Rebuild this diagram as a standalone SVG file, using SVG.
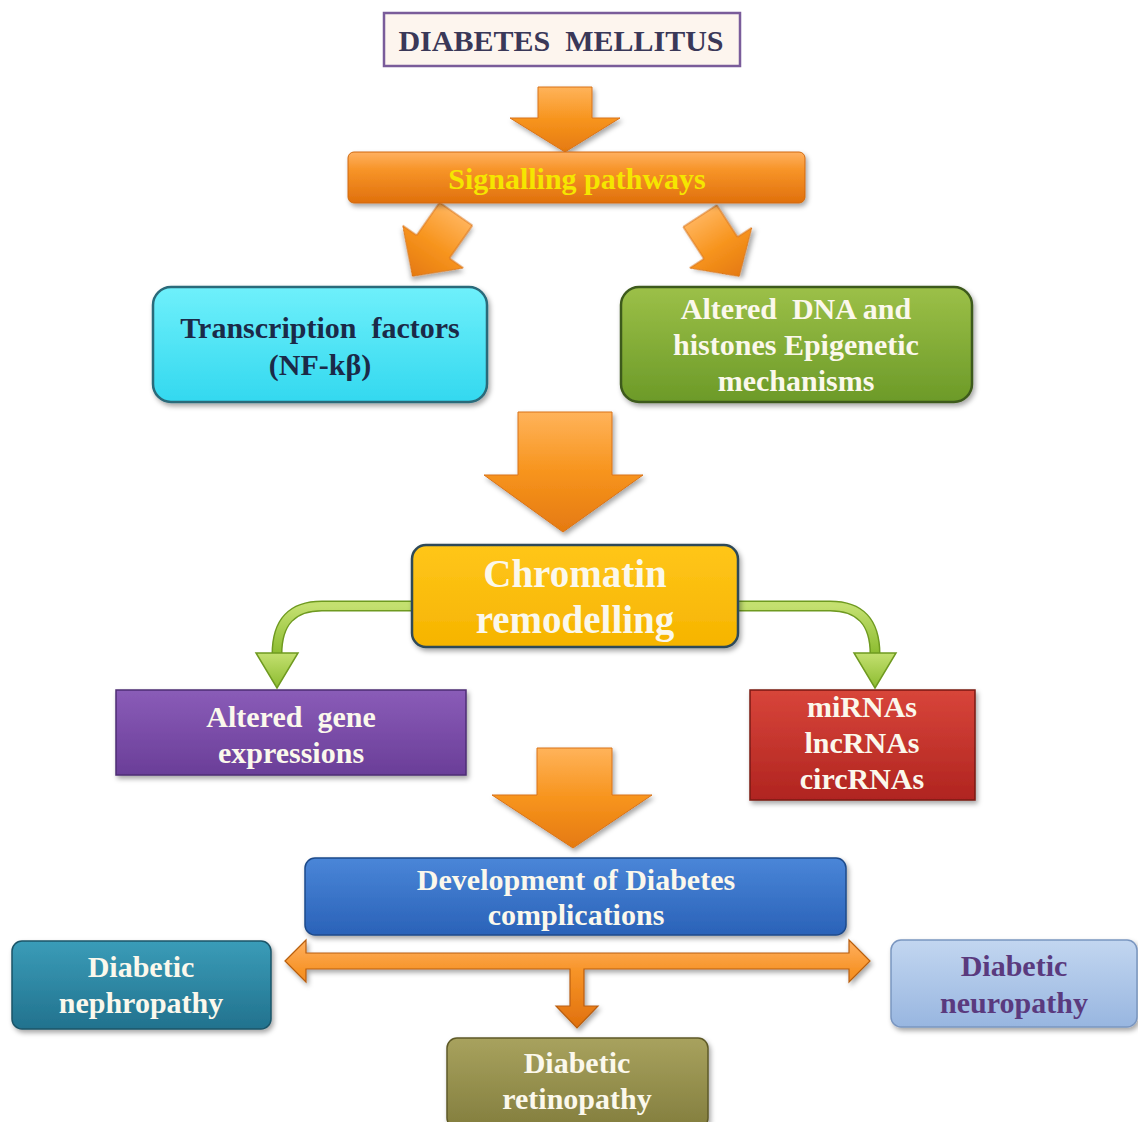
<svg xmlns="http://www.w3.org/2000/svg" width="1138" height="1122" viewBox="0 0 1138 1122">
<defs>
<style>
text{font-family:'Liberation Serif','DejaVu Serif',serif;font-weight:700;text-anchor:middle;font-size:30px}
.w{fill:#fbf8ec}
.orange{fill:url(#gOrange);stroke:#d9731a;stroke-width:1}
</style>
<filter id="sh" x="-10%" y="-10%" width="125%" height="130%"><feDropShadow dx="2" dy="3" stdDeviation="2.5" flood-color="#000" flood-opacity="0.35"/></filter>
<linearGradient id="gOrange" x1="0" y1="0" x2="0" y2="1"><stop offset="0" stop-color="#ffb35a"/><stop offset="0.5" stop-color="#f7941d"/><stop offset="1" stop-color="#e57a10"/></linearGradient>
<linearGradient id="gBar" x1="0" y1="0" x2="0" y2="1"><stop offset="0" stop-color="#ffb060"/><stop offset="0.35" stop-color="#f79428"/><stop offset="1" stop-color="#e0700c"/></linearGradient>
<linearGradient id="gCyan" x1="0" y1="0" x2="0" y2="1"><stop offset="0" stop-color="#6ff0fb"/><stop offset="1" stop-color="#33d8ef"/></linearGradient>
<linearGradient id="gGreen" x1="0" y1="0" x2="0" y2="1"><stop offset="0" stop-color="#9cc048"/><stop offset="1" stop-color="#6c9a28"/></linearGradient>
<linearGradient id="gYel" x1="0" y1="0" x2="0" y2="1"><stop offset="0" stop-color="#ffc61a"/><stop offset="1" stop-color="#f6b400"/></linearGradient>
<linearGradient id="gPurple" x1="0" y1="0" x2="0" y2="1"><stop offset="0" stop-color="#8a5cb8"/><stop offset="1" stop-color="#6a3e98"/></linearGradient>
<linearGradient id="gRed" x1="0" y1="0" x2="0" y2="1"><stop offset="0" stop-color="#d8453a"/><stop offset="1" stop-color="#b02420"/></linearGradient>
<linearGradient id="gBlue" x1="0" y1="0" x2="0" y2="1"><stop offset="0" stop-color="#4a86d8"/><stop offset="1" stop-color="#2a62b8"/></linearGradient>
<linearGradient id="gTeal" x1="0" y1="0" x2="0" y2="1"><stop offset="0" stop-color="#3a9cb8"/><stop offset="1" stop-color="#22728e"/></linearGradient>
<linearGradient id="gLBlue" x1="0" y1="0" x2="0" y2="1"><stop offset="0" stop-color="#c2d6f0"/><stop offset="1" stop-color="#98b6e0"/></linearGradient>
<linearGradient id="gOlive" x1="0" y1="0" x2="0" y2="1"><stop offset="0" stop-color="#a8a25e"/><stop offset="1" stop-color="#837e3e"/></linearGradient>
<linearGradient id="gLG" x1="0" y1="0" x2="0" y2="1"><stop offset="0" stop-color="#c4e070"/><stop offset="1" stop-color="#8cbc30"/></linearGradient>
</defs>
<rect width="1138" height="1122" fill="#ffffff"/>

<g id="connectors">
  <polygon class="orange" filter="url(#sh)" points="538,87 592,87 592,118 620,118 565,152 510,118 538,118"/>
  <g transform="translate(456,214) rotate(35)">
    <polygon class="orange" filter="url(#sh)" points="-20,0 20,0 20,40 37,40 0,76 -37,40 -20,40"/>
  </g>
  <g transform="translate(700,216) rotate(-33)">
    <polygon class="orange" filter="url(#sh)" points="-20,0 20,0 20,38 37,38 0,72 -37,38 -20,38"/>
  </g>
  <polygon class="orange" filter="url(#sh)" points="518,412 612,412 612,475 643,475 563,532 484,475 518,475"/>
  <path d="M412,606 L322,606 Q277,606 277,654" fill="none" stroke="#6f9a20" stroke-width="11"/>
  <path d="M412,606 L322,606 Q277,606 277,654" fill="none" stroke="url(#gLG)" stroke-width="8"/>
  <polygon points="256,653 298,653 277,688" fill="url(#gLG)" stroke="#6f9a20" stroke-width="1.5"/>
  <path d="M738,606 L830,606 Q875,606 875,654" fill="none" stroke="#6f9a20" stroke-width="11"/>
  <path d="M738,606 L830,606 Q875,606 875,654" fill="none" stroke="url(#gLG)" stroke-width="8"/>
  <polygon points="854,653 896,653 875,688" fill="url(#gLG)" stroke="#6f9a20" stroke-width="1.5"/>
  <polygon class="orange" filter="url(#sh)" points="537,748 612,748 612,795 652,795 573,848 492,795 537,795"/>
  <polygon fill="url(#gBar)" stroke="#b85e10" stroke-width="1.2" filter="url(#sh)" points="285,961 306,940 306,953 849,953 849,940 870,961 849,982 849,969 584,969 584,1006 598,1006 577,1028 556,1006 570,1006 570,969 306,969 306,982"/>
</g>

<g id="node-title">
  <rect x="384" y="13" width="356" height="53" fill="#fdf5ee" stroke="#7a5c9a" stroke-width="2.5"/>
  <text x="561" y="51" fill="#3a3858">DIABETES&#160; MELLITUS</text>
</g>

<g id="node-signalling">
  <rect x="348" y="152" width="457" height="51" rx="6" fill="url(#gBar)" stroke="#d0680e" stroke-width="1" filter="url(#sh)"/>
  <text x="577" y="189" fill="#f5e600">Signalling pathways</text>
</g>

<g id="node-transcription">
  <rect x="153" y="287" width="334" height="115" rx="18" fill="url(#gCyan)" stroke="#2a6a7a" stroke-width="2.5" filter="url(#sh)"/>
  <text x="320" y="338" fill="#1b2a48">Transcription&#160; factors</text>
  <text x="320" y="375" fill="#1b2a48">(NF-kβ)</text>
</g>

<g id="node-dna">
  <rect x="621" y="287" width="351" height="115" rx="18" fill="url(#gGreen)" stroke="#3e5a1c" stroke-width="2.5" filter="url(#sh)"/>
  <text class="w" x="796" y="319">Altered&#160; DNA and</text>
  <text class="w" x="796" y="355">histones Epigenetic</text>
  <text class="w" x="796" y="391">mechanisms</text>
</g>

<g id="node-chromatin">
  <rect x="412" y="545" width="326" height="102" rx="14" fill="url(#gYel)" stroke="#2e4a58" stroke-width="2.5" filter="url(#sh)"/>
  <text class="w" x="575" y="587" style="font-size:39px">Chromatin</text>
  <text class="w" x="575" y="633" style="font-size:39px">remodelling</text>
</g>

<g id="node-gene">
  <rect x="116" y="690" width="350" height="85" fill="url(#gPurple)" stroke="#4e2c74" stroke-width="1.5" filter="url(#sh)"/>
  <text class="w" x="291" y="727">Altered&#160; gene</text>
  <text class="w" x="291" y="763">expressions</text>
</g>

<g id="node-rnas">
  <rect x="750" y="690" width="225" height="110" fill="url(#gRed)" stroke="#7a1a16" stroke-width="1.5" filter="url(#sh)"/>
  <text class="w" x="862" y="717">miRNAs</text>
  <text class="w" x="862" y="753">lncRNAs</text>
  <text class="w" x="862" y="789">circRNAs</text>
</g>

<g id="node-development">
  <rect x="305" y="858" width="541" height="77" rx="10" fill="url(#gBlue)" stroke="#1e4a8a" stroke-width="1.5" filter="url(#sh)"/>
  <text class="w" x="576" y="890">Development of Diabetes</text>
  <text class="w" x="576" y="925">complications</text>
</g>

<g id="node-nephropathy">
  <rect x="12" y="941" width="259" height="88" rx="10" fill="url(#gTeal)" stroke="#1a5468" stroke-width="1.5" filter="url(#sh)"/>
  <text class="w" x="141" y="977">Diabetic</text>
  <text class="w" x="141" y="1013">nephropathy</text>
</g>

<g id="node-neuropathy">
  <rect x="891" y="940" width="246" height="87" rx="10" fill="url(#gLBlue)" stroke="#7a96c0" stroke-width="1.5" filter="url(#sh)"/>
  <text x="1014" y="976" fill="#5a3a7e">Diabetic</text>
  <text x="1014" y="1013" fill="#5a3a7e">neuropathy</text>
</g>

<g id="node-retinopathy">
  <rect x="447" y="1038" width="261" height="90" rx="10" fill="url(#gOlive)" stroke="#5e5a28" stroke-width="1.5" filter="url(#sh)"/>
  <text class="w" x="577" y="1073">Diabetic</text>
  <text class="w" x="577" y="1109">retinopathy</text>
</g>
</svg>
